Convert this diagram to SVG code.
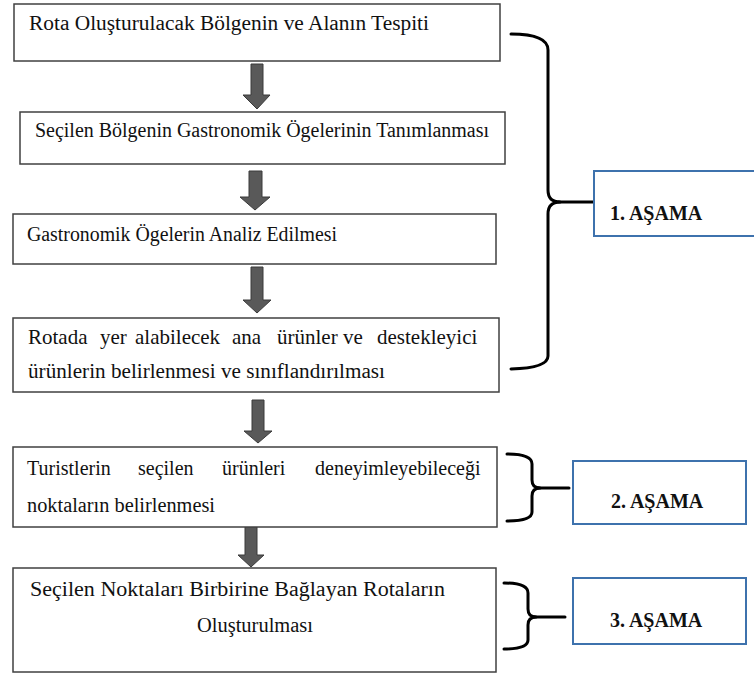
<svg xmlns="http://www.w3.org/2000/svg" width="754" height="675" viewBox="0 0 754 675">
  <style>
    .box { fill: #ffffff; stroke: #404040; stroke-width: 1.5; }
    .stage { fill: #ffffff; stroke: #3e72ad; stroke-width: 2; }
    .t { font-family: 'Liberation Serif', 'DejaVu Serif', serif; font-size: 20px; fill: #111111; }
    .j { font-family: 'Liberation Serif', 'DejaVu Serif', serif; font-size: 21px; fill: #111111; }
    .b { font-family: 'Liberation Serif', 'DejaVu Serif', serif; font-size: 20px; font-weight: bold; fill: #111111; }
    .arrow { fill: #595959; stroke: #3a3a3a; stroke-width: 1; }
    .brace { fill: none; stroke: #000000; stroke-width: 3; stroke-linecap: round; stroke-linejoin: round; }
  </style>
  <rect width="754" height="675" fill="#ffffff"/>

  <g id="connectors">
    <path class="arrow" d="M251,64 H263 V95 H270 L257,109 L243,95 H251 Z"/>
    <path class="arrow" d="M249,171 H262 V197 H270 L255,210 L240,197 H249 Z"/>
    <path class="arrow" d="M251,267 H263 V300 H271 L257,313 L243,300 H251 Z"/>
    <path class="arrow" d="M252,400 H264 V431 H272 L258,443 L244,431 H252 Z"/>
    <path class="arrow" d="M245,525 H257 V555 H264 L251,567 L238,555 H245 Z"/>
  </g>

  <g id="node1">
    <rect class="box" x="14" y="4" width="486" height="57"/>
    <text class="t" x="29" y="30" textLength="400" lengthAdjust="spacingAndGlyphs">Rota Oluşturulacak Bölgenin ve Alanın Tespiti</text>
  </g>

  <g id="node2">
    <rect class="box" x="20" y="112" width="485" height="52"/>
    <text class="t" x="35" y="137" textLength="454" lengthAdjust="spacingAndGlyphs">Seçilen Bölgenin Gastronomik Ögelerinin Tanımlanması</text>
  </g>

  <g id="node3">
    <rect class="box" x="13" y="214" width="483" height="50"/>
    <text class="t" x="27" y="241" textLength="310" lengthAdjust="spacingAndGlyphs">Gastronomik Ögelerin Analiz Edilmesi</text>
  </g>

  <g id="node4">
    <rect class="box" x="13" y="318" width="486" height="74"/>
    <text class="j" y="344"><tspan x="28">Rotada</tspan><tspan x="100">yer</tspan><tspan x="135">alabilecek</tspan><tspan x="232">ana</tspan><tspan x="277">ürünler</tspan><tspan x="343">ve</tspan><tspan x="377">destekleyici</tspan></text>
    <text class="t" x="28" y="378" textLength="357" lengthAdjust="spacingAndGlyphs">ürünlerin belirlenmesi ve sınıflandırılması</text>
  </g>

  <g id="node5">
    <rect class="box" x="13" y="447" width="484" height="80"/>
    <text class="t" y="475"><tspan x="27">Turistlerin</tspan><tspan x="138">seçilen</tspan><tspan x="222">ürünleri</tspan><tspan x="315">deneyimleyebileceği</tspan></text>
    <text class="t" x="27" y="512" textLength="188" lengthAdjust="spacingAndGlyphs">noktaların belirlenmesi</text>
  </g>

  <g id="node6">
    <rect class="box" x="13" y="568" width="483" height="104"/>
    <text class="t" x="30" y="596" textLength="415" lengthAdjust="spacingAndGlyphs">Seçilen Noktaları Birbirine Bağlayan Rotaların</text>
    <text class="t" x="197" y="632" textLength="116" lengthAdjust="spacingAndGlyphs">Oluşturulması</text>
  </g>

  <g id="brace1">
    <path class="brace" d="M511,34 Q548,34 548,50 L548,190 Q548,202 560,202 Q548,202 548,214 L548,356 Q548,368 511,369"/>
    <path class="brace" d="M558,202 H597"/>
  </g>
  <g id="stage1">
    <rect class="stage" x="594" y="171" width="170" height="65"/>
    <text class="b" x="610" y="220">1. AŞAMA</text>
  </g>

  <g id="brace2">
    <path class="brace" d="M507,454 Q532,454 532,464 L532,480 Q532,488 540,488 Q532,488 532,496 L532,512 Q532,521 507,521"/>
    <path class="brace" d="M538,488 H569"/>
  </g>
  <g id="stage2">
    <rect class="stage" x="573" y="461" width="173" height="63"/>
    <text class="b" x="611" y="508">2. AŞAMA</text>
  </g>

  <g id="brace3">
    <path class="brace" d="M504,583 Q528,583 528,593 L528,609 Q528,617 536,617 Q528,617 528,625 L528,640 Q528,649 504,649"/>
    <path class="brace" d="M534,617 H565"/>
  </g>
  <g id="stage3">
    <rect class="stage" x="573" y="578" width="173" height="66"/>
    <text class="b" x="610" y="627">3. AŞAMA</text>
  </g>
</svg>
